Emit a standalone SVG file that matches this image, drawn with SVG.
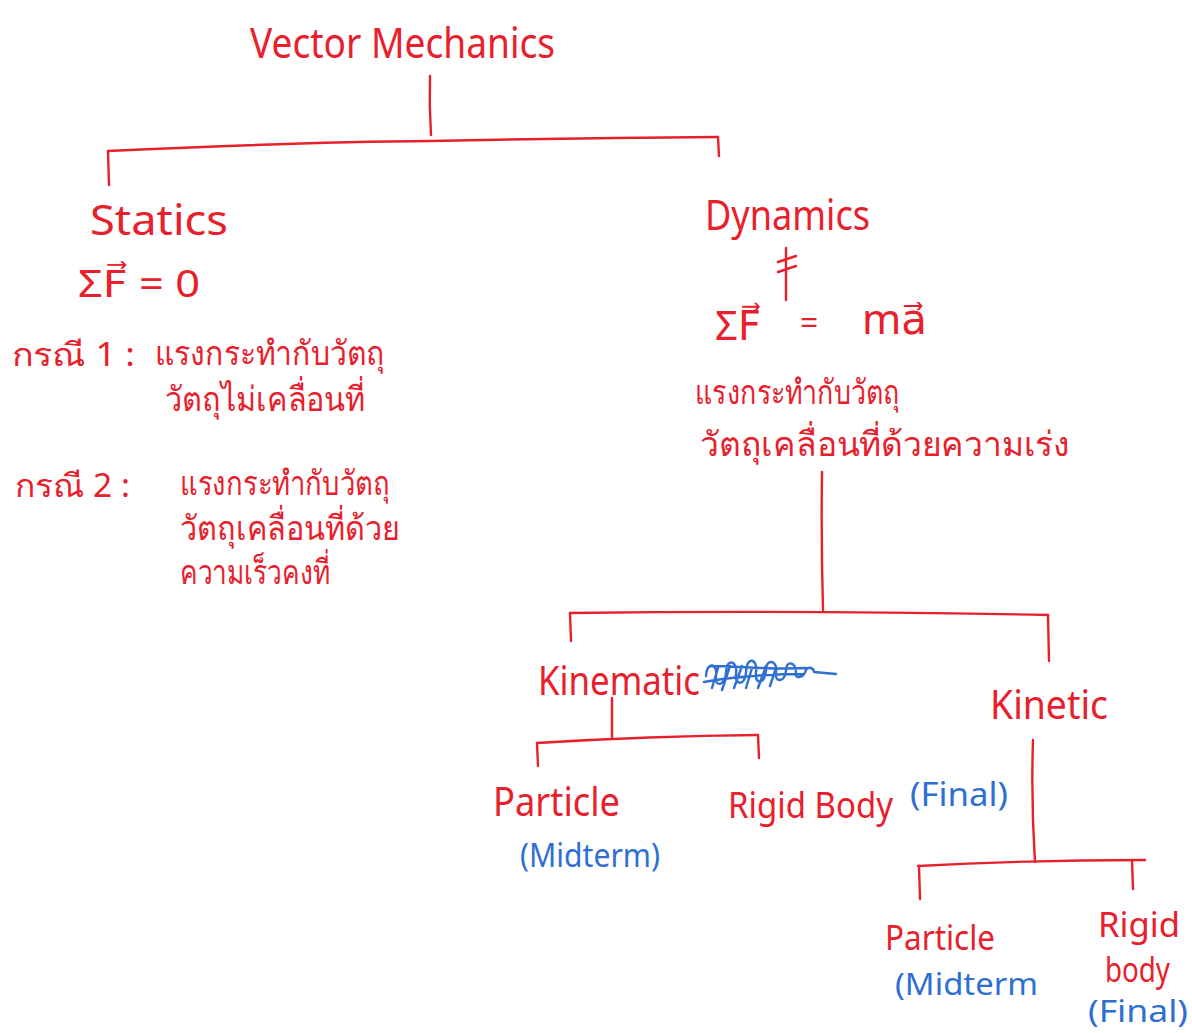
<svg xmlns="http://www.w3.org/2000/svg" width="1192" height="1033" viewBox="0 0 1192 1033">
<style>
.r{fill:#e8202c;font-family:"Noto Sans","DejaVu Sans",sans-serif;}
.b{fill:#2f6fd2;font-family:"Noto Sans","DejaVu Sans",sans-serif;}
.l{fill:none;stroke:#e8202c;stroke-width:2.4;stroke-linecap:round;stroke-linejoin:round;}
.s{fill:none;stroke:#2f6fd2;stroke-width:2.4;stroke-linecap:round;stroke-linejoin:round;}
</style>
<rect width="1192" height="1033" fill="#ffffff"/>
<g id="connectors">
<path class="l" d="M430 76 Q429 105 431 135"/>
<path class="l" d="M108 151 Q300 142 430 141 Q580 138 718 137"/>
<path class="l" d="M108 151 L109 185"/>
<path class="l" d="M718 137 L719 156"/>
<path class="l" d="M822 472 Q821 540 823 610"/>
<path class="l" d="M570 613 Q800 610 1048 615"/>
<path class="l" d="M570 613 L571 641"/>
<path class="l" d="M1048 615 L1049 661"/>
<path class="l" d="M612 698 L612 738"/>
<path class="l" d="M537 743 Q650 736 758 735"/>
<path class="l" d="M537 743 L538 766"/>
<path class="l" d="M758 735 L759 758"/>
<path class="l" d="M1033 740 Q1031 800 1035 862"/>
<path class="l" d="M918 866 Q1030 860 1145 860"/>
<path class="l" d="M919 866 L920 899"/>
<path class="l" d="M1132 860 L1133 889"/>
</g>
<g id="root">
<text class="r" x="250" y="58" font-size="42" textLength="305" lengthAdjust="spacingAndGlyphs">Vector Mechanics</text>
</g>
<g id="statics">
<text class="r" x="90" y="235" font-size="42" textLength="138" lengthAdjust="spacingAndGlyphs">Statics</text>
<text class="r" x="78" y="297" font-size="38" textLength="122" lengthAdjust="spacingAndGlyphs">ΣF⃗ = 0</text>
<text class="r" x="12" y="366" font-size="32" textLength="123" lengthAdjust="spacingAndGlyphs">กรณี 1 :</text>
<text class="r" x="155" y="365" font-size="34" textLength="230" lengthAdjust="spacingAndGlyphs">แรงกระทำกับวัตถุ</text>
<text class="r" x="165" y="411" font-size="34" textLength="200" lengthAdjust="spacingAndGlyphs">วัตถุไม่เคลื่อนที่</text>
<text class="r" x="15" y="497" font-size="32" textLength="115" lengthAdjust="spacingAndGlyphs">กรณี 2 :</text>
<text class="r" x="180" y="495" font-size="34" textLength="210" lengthAdjust="spacingAndGlyphs">แรงกระทำกับวัตถุ</text>
<text class="r" x="180" y="540" font-size="34" textLength="220" lengthAdjust="spacingAndGlyphs">วัตถุเคลื่อนที่ด้วย</text>
<text class="r" x="180" y="584" font-size="34" textLength="150" lengthAdjust="spacingAndGlyphs">ความเร็วคงที่</text>
</g>
<g id="dynamics">
<text class="r" x="705" y="230" font-size="42" textLength="165" lengthAdjust="spacingAndGlyphs">Dynamics</text>
<path class="l" d="M786 248 L786 300 M778 262 L796 256 M778 272 L796 266"/>
<text class="r" x="715" y="340" font-size="40">ΣF⃗</text>
<text class="r" x="800" y="334" font-size="32">=</text>
<text class="r" x="862" y="334" font-size="42">ma⃗</text>
<text class="r" x="695" y="404" font-size="34" textLength="205" lengthAdjust="spacingAndGlyphs">แรงกระทำกับวัตถุ</text>
<text class="r" x="700" y="456" font-size="34" textLength="370" lengthAdjust="spacingAndGlyphs">วัตถุเคลื่อนที่ด้วยความเร่ง</text>
</g>
<g id="kinematic">
<text class="r" x="538" y="695" font-size="40" textLength="162" lengthAdjust="spacingAndGlyphs">Kinematic</text>
<path class="s" d="M706 676 c0 -14 12 -14 10 0 c-2 12 10 10 10 -4 c0 -14 12 -12 10 2 c-2 12 10 12 10 -2 c0 -16 12 -14 10 0 c-2 14 10 12 10 -2 c0 -12 12 -10 10 2 c-2 12 10 10 10 -2 c0 -10 10 -8 10 2 c-2 8 8 6 10 -2 c2 -4 8 -2 8 2 l22 2 M704 682 c20 -4 60 -8 100 -8 M710 666 c30 0 60 4 96 2 M712 688 l6 -20 M722 690 l8 -24 M734 688 l8 -22 M746 688 l6 -20 M758 688 l8 -22 M770 686 l6 -18"/>
</g>
<g id="kinetic">
<text class="r" x="990" y="719" font-size="40" textLength="118" lengthAdjust="spacingAndGlyphs">Kinetic</text>
</g>
<g id="kinematic-particle">
<text class="r" x="493" y="816" font-size="40" textLength="127" lengthAdjust="spacingAndGlyphs">Particle</text>
<text class="b" x="520" y="867" font-size="32" textLength="140" lengthAdjust="spacingAndGlyphs">(Midterm)</text>
</g>
<g id="kinematic-rigid">
<text class="r" x="728" y="818" font-size="36" textLength="165" lengthAdjust="spacingAndGlyphs">Rigid Body</text>
<text class="b" x="910" y="806" font-size="32" textLength="98" lengthAdjust="spacingAndGlyphs">(Final)</text>
</g>
<g id="kinetic-particle">
<text class="r" x="885" y="950" font-size="34" textLength="110" lengthAdjust="spacingAndGlyphs">Particle</text>
<text class="b" x="895" y="995" font-size="30" textLength="143" lengthAdjust="spacingAndGlyphs">(Midterm</text>
</g>
<g id="kinetic-rigid">
<text class="r" x="1098" y="937" font-size="34" textLength="82" lengthAdjust="spacingAndGlyphs">Rigid</text>
<text class="r" x="1105" y="982" font-size="34" textLength="65" lengthAdjust="spacingAndGlyphs">body</text>
<text class="b" x="1088" y="1022" font-size="30" textLength="100" lengthAdjust="spacingAndGlyphs">(Final)</text>
</g>
</svg>
